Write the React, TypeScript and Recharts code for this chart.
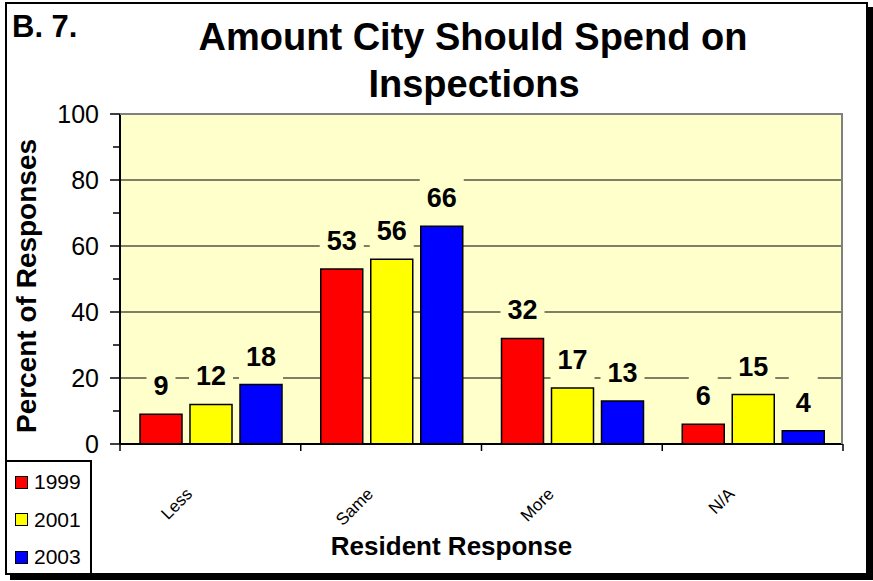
import React from 'react';
import { BarChart, Bar, XAxis, YAxis, CartesianGrid, LabelList, Legend, Label } from 'recharts';

const categories = ['Less', 'Same', 'More', 'N/A'];
const y1999 = [9, 53, 32, 6];
const y2001 = [12, 56, 17, 15];
const y2003 = [18, 66, 13, 4];
const yTicks = [0, 10, 20, 30, 40, 50, 60, 70, 80, 90, 100];
const gridValues = [20, 40, 60, 80];
const seriesNames = ['1999', '2001', '2003'];
const seriesColors = ['#FF0000', '#FFFF00', '#0000FF'];

const data = categories.map((c, i) => ({ cat: c, y1999: y1999[i], y2001: y2001[i], y2003: y2003[i] }));

const FONT = '"Liberation Sans", Arial, Helvetica, sans-serif';
const W = 873;
const H = 581;
const MARGIN = { top: 114, right: 30, bottom: 77, left: 0 };
const YAXIS_W = 120;
const XAXIS_H = 60;
const PLOT_W = W - MARGIN.left - MARGIN.right - YAXIS_W;
const BAND = PLOT_W / categories.length;
const PLOT_BG = '#FFFFCC';

const YTick = (props: any) => {
  const { x, y, payload } = props;
  const major = payload.value % 20 === 0;
  return (
    <g>
      <line x1={x - (major ? 10 : 7)} x2={x} y1={y} y2={y} stroke="#000" strokeWidth={1.5} />
      {major && (
        <text x={x - 21} y={y} dy={9} textAnchor="end" fontFamily={FONT} fontSize={25} fill="#000">
          {payload.value}
        </text>
      )}
    </g>
  );
};

const XTick = (props: any) => {
  const { x, y, payload, index } = props;
  const left = x - BAND / 2;
  const right = x + BAND / 2;
  return (
    <g>
      <line x1={left} x2={left} y1={y} y2={y + 7} stroke="#000" strokeWidth={1.5} />
      {index === categories.length - 1 && (
        <line x1={right} x2={right} y1={y} y2={y + 7} stroke="#000" strokeWidth={1.5} />
      )}
      <text
        x={x - 17}
        y={y + 51}
        textAnchor="end"
        transform={`rotate(-45 ${x - 17} ${y + 51})`}
        fontFamily={FONT}
        fontSize={17}
        fill="#000"
      >
        {payload.value}
      </text>
    </g>
  );
};

const ValueLabel = (props: any) => {
  const { x, y, width, value } = props;
  if (x == null || y == null) return null;
  const cx = Number(x) + Number(width) / 2;
  const top = Number(y);
  const txt = String(value);
  const bw = txt.length * 15 + 14;
  return (
    <g>
      <rect x={cx - bw / 2} y={top - 55} width={bw} height={50} fill={PLOT_BG} />
      <text x={cx} y={top - 19} textAnchor="middle" fontFamily={FONT} fontWeight="bold" fontSize={27} fill="#000">
        {txt}
      </text>
    </g>
  );
};

const LegendBox = (props: any) => {
  const payload = props.payload || [];
  return (
    <div
      style={{
        width: 87,
        height: 115,
        boxSizing: 'border-box',
        border: '2px solid #000',
        background: '#fff',
        position: 'relative',
        fontFamily: FONT,
      }}
    >
      {seriesNames.map((n, i) => {
        const entry = payload[i];
        const color = (entry && entry.color) || seriesColors[i];
        return (
          <div key={n} style={{ position: 'absolute', left: 8, top: 8 + i * 37.5, height: 24, display: 'flex', alignItems: 'center' }}>
            <span
              style={{
                display: 'inline-block',
                width: 13,
                height: 13,
                boxSizing: 'border-box',
                border: '1.5px solid #000',
                background: color,
                marginRight: 6,
              }}
            />
            <span style={{ fontSize: 21, color: '#000', lineHeight: '24px' }}>{(entry && entry.value) || n}</span>
          </div>
        );
      })}
    </div>
  );
};

export default function App() {
  return (
    <div style={{ position: 'absolute', left: 0, top: 0, width: W, height: H, background: '#fff', overflow: 'hidden' }}>
      <div
        style={{
          position: 'absolute',
          left: 5,
          top: 2,
          width: 863,
          height: 573,
          boxSizing: 'border-box',
          border: '2px solid #000',
          boxShadow: '5px 5px 0 #000',
          background: '#fff',
        }}
      />
      <BarChart
        width={W}
        height={H}
        data={data}
        margin={MARGIN}
        barCategoryGap={20}
        barGap={8}
        style={{ position: 'absolute', left: 0, top: 0 }}
      >
        <CartesianGrid
          fill={PLOT_BG}
          vertical={false}
          horizontalValues={gridValues}
          stroke="#000"
          strokeWidth={1.2}
          strokeDasharray=""
        />
        <XAxis
          dataKey="cat"
          height={XAXIS_H}
          tickSize={0}
          tickMargin={0}
          tickLine={false}
          axisLine={{ stroke: '#000', strokeWidth: 2 }}
          tick={<XTick />}
          interval={0}
        >
          <Label
            content={(p: any) => {
              const vb = p.viewBox || {};
              return (
                <text x={vb.x + vb.width / 2 - 30} y={555} textAnchor="middle" fontFamily={FONT} fontWeight="bold" fontSize={26} fill="#000">
                  Resident Response
                </text>
              );
            }}
          />
        </XAxis>
        <YAxis
          width={YAXIS_W}
          domain={[0, 100]}
          ticks={yTicks}
          interval={0}
          tickSize={0}
          tickMargin={0}
          tickLine={false}
          axisLine={{ stroke: '#000', strokeWidth: 2 }}
          tick={<YTick />}
        >
          <Label
            content={(p: any) => {
              const vb = p.viewBox || {};
              const cy = vb.y + vb.height / 2 + 7;
              return (
                <text
                  x={36}
                  y={cy}
                  textAnchor="middle"
                  transform={`rotate(-90 36 ${cy})`}
                  fontFamily={FONT}
                  fontWeight="bold"
                  fontSize={28}
                  fill="#000"
                >
                  Percent of Responses
                </text>
              );
            }}
          />
        </YAxis>
        <Legend
          layout="vertical"
          align="center"
          verticalAlign="middle"
          content={<LegendBox />}
          wrapperStyle={{ position: 'absolute', left: 5, top: 460, width: 87, height: 115 }}
        />
        <Bar dataKey="y1999" name={seriesNames[0]} fill={seriesColors[0]} stroke="#000" strokeWidth={1.5} isAnimationActive={false}>
          <LabelList dataKey="y1999" content={<ValueLabel />} />
        </Bar>
        <Bar dataKey="y2001" name={seriesNames[1]} fill={seriesColors[1]} stroke="#000" strokeWidth={1.5} isAnimationActive={false}>
          <LabelList dataKey="y2001" content={<ValueLabel />} />
        </Bar>
        <Bar dataKey="y2003" name={seriesNames[2]} fill={seriesColors[2]} stroke="#000" strokeWidth={1.5} isAnimationActive={false}>
          <LabelList dataKey="y2003" content={<ValueLabel />} />
        </Bar>
      </BarChart>
      <div
        style={{
          position: 'absolute',
          left: 120,
          top: 113,
          width: 723,
          height: 331,
          boxSizing: 'border-box',
          borderTop: '2px solid #808080',
          borderRight: '2px solid #808080',
          pointerEvents: 'none',
        }}
      />
      <svg width={W} height={110} style={{ position: 'absolute', left: 0, top: 0, pointerEvents: 'none' }}>
        <text x={12} y={37} fontFamily={FONT} fontWeight="bold" fontSize={31} fill="#000">
          B. 7.
        </text>
        <text x={473} y={50} textAnchor="middle" fontFamily={FONT} fontWeight="bold" fontSize={38} fill="#000">
          Amount City Should Spend on
        </text>
        <text x={474} y={97} textAnchor="middle" fontFamily={FONT} fontWeight="bold" fontSize={38} fill="#000">
          Inspections
        </text>
      </svg>
    </div>
  );
}
